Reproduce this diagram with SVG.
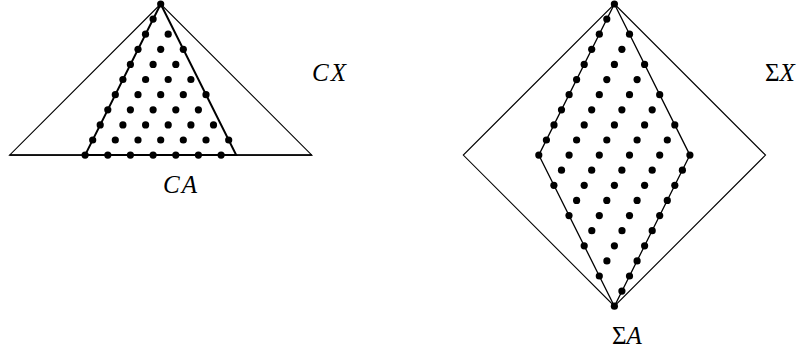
<svg xmlns="http://www.w3.org/2000/svg" xmlns:xlink="http://www.w3.org/1999/xlink" width="808" height="354" viewBox="0 0 808 354">
<style>
.thin{fill:none;stroke:#000;stroke-width:1.1;stroke-linejoin:miter}
.thick{fill:none;stroke:#000;stroke-width:2;stroke-linejoin:miter}
.lbl{font-family:"Liberation Serif",serif;font-size:25px;fill:#000}
.it{font-style:italic}
</style>
<defs>
<circle id="d" r="3.6" fill="#000"/>
</defs>
<rect width="808" height="354" fill="#fff"/>
<g id="connectors">
<polygon class="thin" points="160.7,4 9.6,155.1 311.8,155.1"/>
<line class="thick" x1="9.6" y1="155.1" x2="311.8" y2="155.1" style="stroke-width:1.5"/>
<polygon class="thick" points="85.1,155.1 160.7,4 236.2,155.1"/>
<polygon class="thin" points="614.4,4 765.5,155.1 614.4,306.2 463.3,155.1"/>
<polygon class="thin" points="614.4,4 689.9,155.1 614.4,306.2 538.8,155.1" style="stroke-width:1.3"/>
</g>
<g id="left-dots">
<use xlink:href="#d" x="85.1" y="155.1"/><use xlink:href="#d" x="107.8" y="155.1"/><use xlink:href="#d" x="130.4" y="155.1"/><use xlink:href="#d" x="153.1" y="155.1"/><use xlink:href="#d" x="175.8" y="155.1"/><use xlink:href="#d" x="198.4" y="155.1"/><use xlink:href="#d" x="221.1" y="155.1"/>
<use xlink:href="#d" x="92.7" y="140"/><use xlink:href="#d" x="115.3" y="140"/><use xlink:href="#d" x="138" y="140"/><use xlink:href="#d" x="160.7" y="140"/><use xlink:href="#d" x="183.3" y="140"/><use xlink:href="#d" x="206" y="140"/><use xlink:href="#d" x="228.7" y="140"/>
<use xlink:href="#d" x="100.2" y="124.9"/><use xlink:href="#d" x="122.9" y="124.9"/><use xlink:href="#d" x="145.6" y="124.9"/><use xlink:href="#d" x="168.2" y="124.9"/><use xlink:href="#d" x="190.9" y="124.9"/><use xlink:href="#d" x="213.5" y="124.9"/>
<use xlink:href="#d" x="107.8" y="109.8"/><use xlink:href="#d" x="130.4" y="109.8"/><use xlink:href="#d" x="153.1" y="109.8"/><use xlink:href="#d" x="175.8" y="109.8"/><use xlink:href="#d" x="198.4" y="109.8"/>
<use xlink:href="#d" x="115.3" y="94.7"/><use xlink:href="#d" x="138" y="94.7"/><use xlink:href="#d" x="160.7" y="94.7"/><use xlink:href="#d" x="183.3" y="94.7"/><use xlink:href="#d" x="206" y="94.7"/>
<use xlink:href="#d" x="122.9" y="79.5"/><use xlink:href="#d" x="145.6" y="79.5"/><use xlink:href="#d" x="168.2" y="79.5"/><use xlink:href="#d" x="190.9" y="79.5"/>
<use xlink:href="#d" x="130.4" y="64.4"/><use xlink:href="#d" x="153.1" y="64.4"/><use xlink:href="#d" x="175.8" y="64.4"/>
<use xlink:href="#d" x="138" y="49.3"/><use xlink:href="#d" x="160.7" y="49.3"/><use xlink:href="#d" x="183.3" y="49.3"/>
<use xlink:href="#d" x="145.5" y="34.2"/><use xlink:href="#d" x="168.2" y="34.2"/>
<use xlink:href="#d" x="153.1" y="19.1"/>
<use xlink:href="#d" x="160.7" y="4"/>
</g>
<g id="right-dots">
<use xlink:href="#d" x="614.4" y="4"/>
<use xlink:href="#d" x="606.8" y="19.1"/>
<use xlink:href="#d" x="599.3" y="34.2"/><use xlink:href="#d" x="629.5" y="34.2"/>
<use xlink:href="#d" x="591.7" y="49.3"/><use xlink:href="#d" x="621.9" y="49.3"/>
<use xlink:href="#d" x="584.2" y="64.4"/><use xlink:href="#d" x="614.4" y="64.4"/><use xlink:href="#d" x="644.6" y="64.4"/>
<use xlink:href="#d" x="576.6" y="79.6"/><use xlink:href="#d" x="606.8" y="79.6"/><use xlink:href="#d" x="637.1" y="79.6"/>
<use xlink:href="#d" x="569.1" y="94.7"/><use xlink:href="#d" x="599.3" y="94.7"/><use xlink:href="#d" x="629.5" y="94.7"/><use xlink:href="#d" x="659.7" y="94.7"/>
<use xlink:href="#d" x="561.5" y="109.8"/><use xlink:href="#d" x="591.7" y="109.8"/><use xlink:href="#d" x="621.9" y="109.8"/><use xlink:href="#d" x="652.2" y="109.8"/>
<use xlink:href="#d" x="554" y="124.9"/><use xlink:href="#d" x="584.2" y="124.9"/><use xlink:href="#d" x="614.4" y="124.9"/><use xlink:href="#d" x="644.6" y="124.9"/><use xlink:href="#d" x="674.8" y="124.9"/>
<use xlink:href="#d" x="546.4" y="140"/><use xlink:href="#d" x="576.6" y="140"/><use xlink:href="#d" x="606.8" y="140"/><use xlink:href="#d" x="637.1" y="140"/><use xlink:href="#d" x="667.3" y="140"/>
<use xlink:href="#d" x="538.8" y="155.1"/><use xlink:href="#d" x="569.1" y="155.1"/><use xlink:href="#d" x="599.3" y="155.1"/><use xlink:href="#d" x="629.5" y="155.1"/><use xlink:href="#d" x="659.7" y="155.1"/><use xlink:href="#d" x="689.9" y="155.1"/>
<use xlink:href="#d" x="561.5" y="170.2"/><use xlink:href="#d" x="591.7" y="170.2"/><use xlink:href="#d" x="621.9" y="170.2"/><use xlink:href="#d" x="652.2" y="170.2"/><use xlink:href="#d" x="682.4" y="170.2"/>
<use xlink:href="#d" x="553.9" y="185.3"/><use xlink:href="#d" x="584.2" y="185.3"/><use xlink:href="#d" x="614.4" y="185.3"/><use xlink:href="#d" x="644.6" y="185.3"/><use xlink:href="#d" x="674.8" y="185.3"/>
<use xlink:href="#d" x="576.6" y="200.4"/><use xlink:href="#d" x="606.8" y="200.4"/><use xlink:href="#d" x="637.1" y="200.4"/><use xlink:href="#d" x="667.3" y="200.4"/>
<use xlink:href="#d" x="569" y="215.6"/><use xlink:href="#d" x="599.3" y="215.6"/><use xlink:href="#d" x="629.5" y="215.6"/><use xlink:href="#d" x="659.7" y="215.6"/>
<use xlink:href="#d" x="591.8" y="230.7"/><use xlink:href="#d" x="622" y="230.7"/><use xlink:href="#d" x="652.2" y="230.7"/>
<use xlink:href="#d" x="584.2" y="245.8"/><use xlink:href="#d" x="614.4" y="245.8"/><use xlink:href="#d" x="644.6" y="245.8"/>
<use xlink:href="#d" x="606.9" y="260.9"/><use xlink:href="#d" x="637.1" y="260.9"/>
<use xlink:href="#d" x="599.3" y="276"/><use xlink:href="#d" x="629.5" y="276"/>
<use xlink:href="#d" x="621.9" y="291.1"/>
<use xlink:href="#d" x="614.4" y="306.2"/>
</g>
<g id="label-CX"><text class="lbl it" x="312" y="81" letter-spacing="2">CX</text></g>
<g id="label-CA"><text class="lbl it" x="163" y="193" letter-spacing="2">CA</text></g>
<g id="label-SX"><text class="lbl" x="765" y="81">Σ<tspan class="it">X</tspan></text></g>
<g id="label-SA"><text class="lbl" x="612" y="344">Σ<tspan class="it">A</tspan></text></g>
</svg>
